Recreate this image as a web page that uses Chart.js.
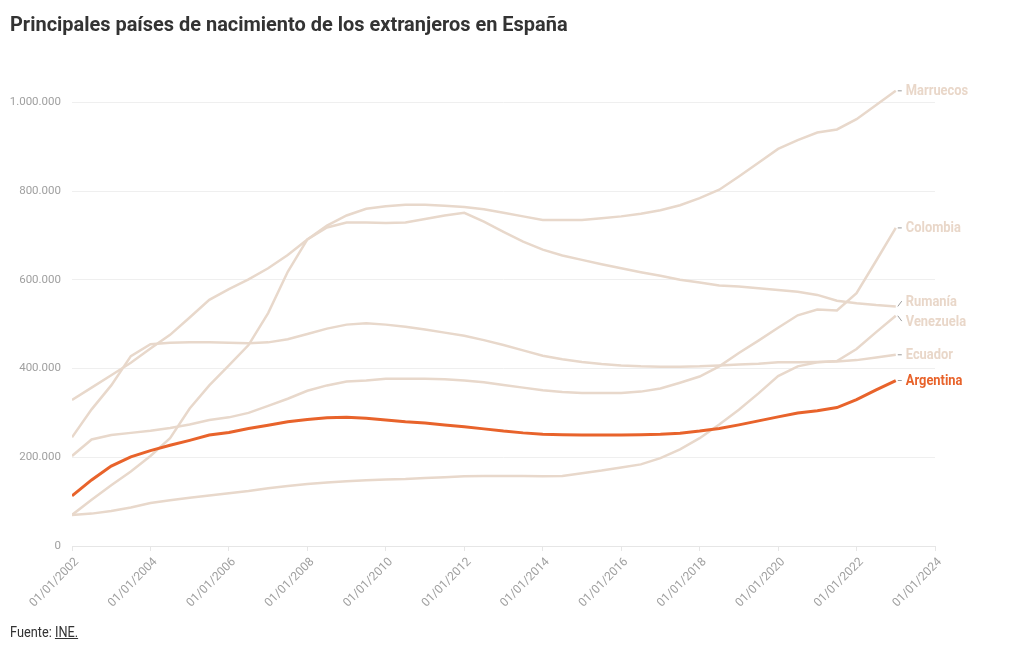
<!DOCTYPE html>
<html lang="es">
<head>
<meta charset="utf-8">
<title>Principales países de nacimiento de los extranjeros en España</title>
<script src="https://cdn.jsdelivr.net/npm/chart.js@4.4.1/dist/chart.umd.min.js"></script>
<style>
  html, body { margin: 0; padding: 0; background: #fff; }
  body { width: 1020px; height: 650px; position: relative; overflow: hidden; font-family: Roboto, sans-serif; }
  #grafico { position: absolute; left: 0; top: 0; }
  #titulo {
    position: absolute; left: 10px; top: 12px; margin: 0;
    font-size: 21px; font-weight: 700; color: #333; white-space: nowrap;
    transform-origin: 0 0; transform: scaleX(0.95);
  }
  #fuente {
    position: absolute; left: 10px; top: 623px;
    font-size: 15px; color: #333; white-space: nowrap;
    transform-origin: 0 0; transform: scaleX(0.85);
  }
  #fuente a { color: #333; text-decoration: underline; }
</style>
</head>
<body>
<canvas id="grafico" width="1020" height="650"></canvas>
<h1 id="titulo">Principales países de nacimiento de los extranjeros en España</h1>
<div id="fuente">Fuente: <a>INE.</a></div>

<script>
// Fechas (1 de enero y 1 de julio de cada año)
var fechas = [
  2002, 2002.5, 2003, 2003.5, 2004, 2004.5, 2005, 2005.5, 2006, 2006.5,
  2007, 2007.5, 2008, 2008.5, 2009, 2009.5, 2010, 2010.5, 2011, 2011.5,
  2012, 2012.5, 2013, 2013.5, 2014, 2014.5, 2015, 2015.5, 2016, 2016.5,
  2017, 2017.5, 2018, 2018.5, 2019, 2019.5, 2020, 2020.5, 2021, 2021.5,
  2022, 2022.5, 2023
];

// Población nacida en cada país (miles)
var marruecos = [329, 357, 385, 413, 445, 476, 515, 555, 579, 601, 626, 656, 691, 722, 745,
  760, 766, 769, 769, 767, 764, 759, 751, 743, 735, 735, 735, 739, 743,
  749, 757, 768, 784, 803, 833, 864, 895, 915, 932, 939, 962, 994, 1026];
var colombia = [203, 240, 250, 255, 260, 266, 274, 284, 290, 300, 316, 332, 350, 362, 371,
  373, 377, 377, 377, 376, 373, 369, 363, 357, 351, 347, 345, 345, 345,
  348, 355, 368, 382, 405, 435, 463, 492, 520, 533, 531, 570, 643, 717];
var rumania = [70, 104, 137, 168, 203, 243, 310, 362, 407, 453, 525, 618, 691, 718, 729,
  729, 728, 729, 737, 745, 751, 731, 708, 686, 668, 655, 645, 635, 626,
  617, 609, 600, 594, 587, 585, 581, 577, 573, 566, 553, 547, 543, 540];
var venezuela = [70, 73, 79, 87, 97, 103, 109, 114, 119, 124, 130, 135, 140, 143, 146,
  148, 150, 151, 153, 155, 157, 158, 158, 158, 157, 158, 164, 170, 177,
  184, 198, 218, 243, 274, 307, 344, 383, 405, 414, 417, 444, 482, 519];
var ecuador = [245, 308, 362, 428, 455, 458, 459, 459, 458, 457, 459, 466, 478, 490, 499,
  502, 499, 494, 488, 481, 474, 464, 453, 441, 429, 421, 415, 410, 407,
  405, 404, 404, 405, 407, 409, 411, 414, 414, 415, 416, 419, 425, 431];
var argentina = [113, 149, 180, 201, 215, 227, 238, 250, 256, 265, 272, 280, 285, 289, 290,
  288, 284, 280, 277, 273, 269, 264, 259, 255, 252, 251, 250, 250, 250,
  251, 252, 254, 259, 265, 273, 282, 291, 300, 305, 312, 330, 352, 373];

var ticksY = [0, 200, 400, 600, 800, 1000];
var ticksX = [2002, 2004, 2006, 2008, 2010, 2012, 2014, 2016, 2018, 2020, 2022, 2024];

var BEIGE = "#e8d8cb";
var BEIGE_TEXTO = "#e9d7c9";
var NARANJA = "#e8632b";

var puntos = function (serie) {
  return fechas.map(function (f, i) { return { x: f, y: serie[i] }; });
};

var formatoMiles = function (v) {
  return String(Math.round(v * 1000)).replace(/\B(?=(\d{3})+(?!\d))/g, ".");
};

var serie = function (nombre, datos, color, textoColor, ancho, orden) {
  return {
    label: nombre,
    data: puntos(datos),
    borderColor: color,
    borderWidth: ancho,
    pointRadius: 0,
    tension: 0,
    fill: false,
    order: orden,
    colorEtiqueta: textoColor
  };
};

// Etiquetas al final de cada línea, separadas si se solapan
var etiquetasFinales = {
  id: "etiquetasFinales",
  afterDatasetsDraw: function (chart) {
    var ctx = chart.ctx;
    var xs = chart.scales.x, ys = chart.scales.y;
    var items = chart.data.datasets.map(function (ds) {
      var ult = ds.data[ds.data.length - 1];
      var y = ys.getPixelForValue(ult.y);
      return { texto: ds.label, color: ds.colorEtiqueta, x: xs.getPixelForValue(ult.x), y0: y, y: y };
    });
    items.sort(function (a, b) { return a.y0 - b.y0; });
    var minGap = 20;
    for (var it = 0; it < 50; it++) {
      for (var i = 0; i < items.length - 1; i++) {
        var gap = items[i + 1].y - items[i].y;
        if (gap < minGap) {
          var d = (minGap - gap) / 2;
          items[i].y -= d;
          items[i + 1].y += d;
        }
      }
    }
    ctx.save();
    items.forEach(function (e) {
      ctx.strokeStyle = "#9a9a9a";
      ctx.lineWidth = 1;
      ctx.beginPath();
      ctx.moveTo(e.x + 2, e.y0);
      ctx.lineTo(e.x + 6, e.y);
      ctx.stroke();

      ctx.save();
      ctx.translate(e.x + 10, e.y);
      ctx.scale(0.92, 1);
      ctx.font = "bold 14px Roboto";
      ctx.fillStyle = e.color;
      ctx.textBaseline = "middle";
      ctx.textAlign = "left";
      ctx.fillText(e.texto, 0, 1);
      ctx.restore();
    });
    ctx.restore();
  }
};

new Chart(document.getElementById("grafico"), {
  type: "line",
  data: {
    datasets: [
      serie("Marruecos", marruecos, BEIGE, BEIGE_TEXTO, 2.5, 2),
      serie("Colombia", colombia, BEIGE, BEIGE_TEXTO, 2.5, 2),
      serie("Rumanía", rumania, BEIGE, BEIGE_TEXTO, 2.5, 2),
      serie("Venezuela", venezuela, BEIGE, BEIGE_TEXTO, 2.5, 2),
      serie("Ecuador", ecuador, BEIGE, BEIGE_TEXTO, 2.5, 2),
      serie("Argentina", argentina, NARANJA, NARANJA, 3, 1)
    ]
  },
  options: {
    responsive: false,
    animation: false,
    layout: { padding: { top: 58, left: 10, right: 85, bottom: 0 } },
    plugins: {
      legend: { display: false },
      tooltip: { enabled: false },
      title: { display: false }
    },
    scales: {
      x: {
        type: "linear",
        min: 2002,
        max: 2024,
        afterBuildTicks: function (scale) {
          scale.ticks = ticksX.map(function (v) { return { value: v }; });
        },
        afterFit: function (scale) { scale.height = 104; },
        grid: {
          display: true,
          drawOnChartArea: false,
          drawTicks: true,
          tickLength: 5,
          color: "#e6e6e6"
        },
        border: { display: true, color: "#e6e6e6" },
        ticks: {
          minRotation: 45,
          maxRotation: 45,
          padding: 4,
          labelOffset: 5,
          color: "#a0a0a0",
          font: { family: "Roboto", size: 12 },
          callback: function (v) { return "01/01/" + v; }
        }
      },
      y: {
        min: 0,
        max: 1100,
        afterBuildTicks: function (scale) {
          scale.ticks = ticksY.map(function (v) { return { value: v }; });
        },
        afterFit: function (scale) { scale.width = 62; },
        grid: { color: "#efefef", drawTicks: false },
        border: { display: false },
        ticks: {
          padding: 11,
          color: "#a0a0a0",
          font: { family: "Roboto", size: 11.5 },
          callback: function (v) { return formatoMiles(v); }
        }
      }
    }
  },
  plugins: [etiquetasFinales]
});
</script>
</body>
</html>
